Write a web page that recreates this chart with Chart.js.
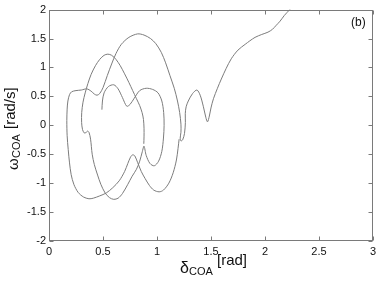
<!DOCTYPE html>
<html>
<head>
<meta charset="utf-8">
<script src="https://cdn.jsdelivr.net/npm/chart.js@4.4.0/dist/chart.umd.min.js"></script>
<style>
  html, body { margin: 0; padding: 0; background: #fff; }
  #wrap { width: 380px; height: 284px; }
</style>
</head>
<body>
<div id="wrap"><canvas id="phase"></canvas></div>
<script>
// trajectory, part 1 (delta_COA [rad], omega_COA [rad/s])
const delta1 = [0.49,0.495,0.51,0.55,0.60, 0.64,0.68,0.72,0.75,0.79, 0.84,0.90,0.96,1.01,1.045,
  1.062,1.066,1.06,1.045,1.015, 0.975,0.935,0.90,0.88,0.865, 0.84,0.81,0.77,0.73,0.68,
  0.64,0.60,0.56,0.52,0.48, 0.45,0.42,0.40,0.385,0.37, 0.355,0.34,0.325,0.31,0.302,
  0.303,0.315,0.335,0.36,0.39, 0.43,0.47,0.51,0.545,0.58, 0.62,0.66,0.70,0.74,0.775,
  0.81,0.84,0.862,0.875,0.88, 0.88,0.878]
const omega1 = [0.27,0.42,0.56,0.67,0.70, 0.63,0.48,0.33,0.36,0.47, 0.60,0.64,0.62,0.56,0.42,
  0.22,0.0,-0.22,-0.45,-0.62, -0.70,-0.66,-0.52,-0.36,-0.45, -0.62,-0.76,-0.88,-1.02,-1.18,
  -1.26,-1.28,-1.25,-1.17,-1.02, -0.86,-0.68,-0.50,-0.24,-0.12, -0.10,-0.13,-0.13,-0.07,0.05,
  0.22,0.40,0.56,0.72,0.88, 1.03,1.14,1.21,1.23,1.21, 1.14,1.03,0.89,0.74,0.60,
  0.46,0.34,0.22,0.10,-0.05, -0.20,-0.32]

// trajectory, part 2 (big swing and loss of synchronism)
const delta2 = [1.205,1.195,1.18,1.15,1.11, 1.06,1.02,0.97,0.93,0.89, 0.855,0.82,0.795,0.775,0.755,
  0.73,0.70,0.65,0.59,0.53, 0.47,0.41,0.37,0.32,0.27, 0.23,0.205,0.19,0.178,0.168,
  0.165,0.168,0.175,0.19,0.21, 0.25,0.30,0.35,0.39,0.42, 0.445,0.47,0.50,0.54,0.58,
  0.62,0.67,0.74,0.82,0.88, 0.94,0.99,1.04,1.08,1.12, 1.16,1.19,1.21,1.222,1.222,
  1.215,1.222,1.238,1.255,1.263, 1.262,1.27,1.29,1.33,1.37, 1.40,1.43,1.452,1.468,1.485,
  1.50,1.523,1.56,1.596,1.64, 1.688,1.75,1.817,1.86,1.908, 1.97,2.028,2.07,2.10,2.14,
  2.18,2.23,2.26]
const omega2 = [-0.24,-0.40,-0.60,-0.82,-1.00, -1.12,-1.15,-1.12,-1.04,-0.92, -0.80,-0.64,-0.53,-0.51,-0.55,
  -0.66,-0.80,-0.96,-1.08,-1.17, -1.22,-1.26,-1.27,-1.24,-1.16, -1.02,-0.85,-0.65,-0.42,-0.18,
  0.08,0.28,0.42,0.53,0.58, 0.60,0.61,0.63,0.59,0.54, 0.52,0.55,0.65,0.86,1.06,
  1.24,1.40,1.52,1.58,1.56, 1.50,1.41,1.26,1.08,0.86, 0.64,0.42,0.22,0.02,-0.12,
  -0.22,-0.27,-0.25,-0.14,0.05, 0.20,0.32,0.42,0.55,0.61, 0.52,0.32,0.14,0.06,0.16,
  0.30,0.46,0.64,0.80,0.98, 1.15,1.30,1.40,1.46,1.52, 1.57,1.61,1.66,1.72,1.80,
  1.90,2.0,2.06]

const xTicks = [0, 0.5, 1, 1.5, 2, 2.5, 3]
const xTickLabels = ['0', '0.5', '1', '1.5', '2', '2.5', '3']
const yTicks = [-2, -1.5, -1, -0.5, 0, 0.5, 1, 1.5, 2]
const yTickLabels = ['-2', '-1.5', '-1', '-0.5', '0', '0.5', '1', '1.5', '2']

const FONT = '"Liberation Sans", Arial, Helvetica, sans-serif'

function toPoints(xs, ys) {
  return xs.map((v, i) => ({ x: v, y: ys[i] }))
}

// matlab-like box, inward ticks, axis titles with subscripts
const framePlugin = {
  id: 'frame',
  afterDraw(chart) {
    const ctx = chart.ctx
    const a = chart.chartArea
    const xs = chart.scales.x, ys = chart.scales.y
    const L = Math.round(a.left) + 0.5, R = Math.round(a.right) - 0.5
    const T = Math.round(a.top) + 0.5, B = Math.round(a.bottom) - 0.5
    ctx.save()
    ctx.strokeStyle = '#7a7a7a'
    ctx.lineWidth = 1
    ctx.strokeRect(L, T, R - L, B - T)
    ctx.beginPath()
    xTicks.forEach(v => {
      const p = Math.round(xs.getPixelForValue(v)) + 0.5
      ctx.moveTo(p, B); ctx.lineTo(p, B - 4)
      ctx.moveTo(p, T); ctx.lineTo(p, T + 4)
    })
    yTicks.forEach(v => {
      const p = Math.round(ys.getPixelForValue(v)) + 0.5
      ctx.moveTo(L, p); ctx.lineTo(L + 4, p)
      ctx.moveTo(R, p); ctx.lineTo(R - 4, p)
    })
    ctx.stroke()

    ctx.fillStyle = '#111'
    ctx.textBaseline = 'alphabetic'
    ctx.textAlign = 'left'
    // x title
    ctx.font = '16px ' + FONT
    ctx.fillText('δ', 180, 273)
    ctx.font = '11px ' + FONT
    ctx.fillText('COA', 189, 275)
    ctx.font = '15px ' + FONT
    ctx.fillText('[rad]', 217, 265)
    // y title
    ctx.save()
    ctx.translate(18, 170)
    ctx.rotate(-Math.PI / 2)
    ctx.font = '15px ' + FONT
    ctx.fillText('ω', 0, 0)
    ctx.font = '11px ' + FONT
    ctx.fillText('COA', 12, 2)
    ctx.font = '15px ' + FONT
    ctx.fillText('[rad/s]', 41, -3)
    ctx.restore()
    // panel tag
    ctx.font = '12px ' + FONT
    ctx.fillText('(b)', 351, 26)
    ctx.restore()
  }
}

new Chart(document.getElementById('phase'), {
  type: 'scatter',
  data: {
    datasets: [
      { data: toPoints(delta1, omega1) },
      { data: toPoints(delta2, omega2) }
    ].map(d => Object.assign(d, {
      showLine: true,
      borderColor: '#7c7c7c',
      borderWidth: 1,
      pointRadius: 0,
      tension: 0.3
    }))
  },
  options: {
    responsive: true,
    maintainAspectRatio: false,
    animation: false,
    layout: { padding: { top: 7, right: 4, left: 0, bottom: 0 } },
    plugins: { legend: { display: false }, tooltip: { enabled: false } },
    scales: {
      x: {
        type: 'linear', min: 0, max: 3,
        afterBuildTicks: s => { s.ticks = xTicks.map(v => ({ value: v })) },
        afterFit: s => { s.height = 43 },
        grid: { display: false, drawTicks: false },
        border: { display: false },
        ticks: {
          padding: 4, color: '#111', maxRotation: 0,
          font: { family: FONT, size: 11 },
          callback: v => xTickLabels[xTicks.indexOf(v)]
        }
      },
      y: {
        type: 'linear', min: -2, max: 2,
        afterBuildTicks: s => { s.ticks = yTicks.map(v => ({ value: v })) },
        afterFit: s => { s.width = 49 },
        grid: { display: false, drawTicks: false },
        border: { display: false },
        ticks: {
          padding: 3, color: '#111',
          font: { family: FONT, size: 11 },
          callback: v => yTickLabels[yTicks.indexOf(v)]
        }
      }
    }
  },
  plugins: [framePlugin]
})
</script>
</body>
</html>
